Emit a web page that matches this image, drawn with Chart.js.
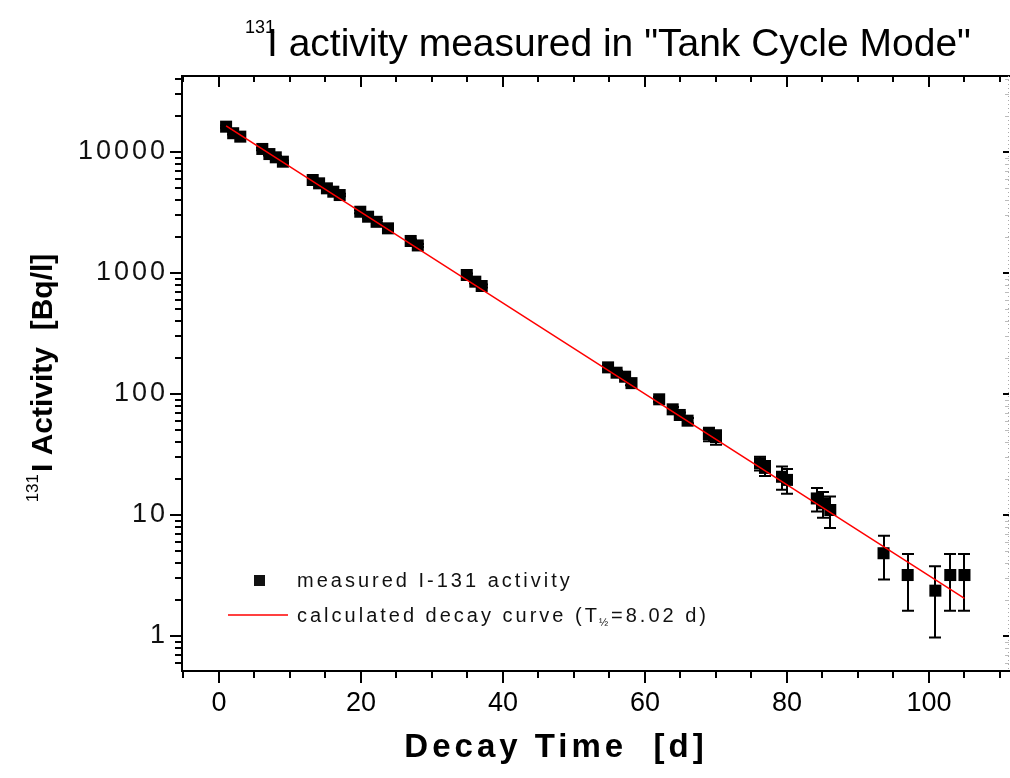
<!DOCTYPE html>
<html>
<head>
<meta charset="utf-8">
<script src="https://cdn.jsdelivr.net/npm/chart.js@4.4.1/dist/chart.umd.min.js"></script>
<style>
  html, body { margin: 0; padding: 0; background: #fff; }
  #wrap { width: 1010px; height: 778px; }
</style>
</head>
<body>
<div id="wrap"><canvas id="decayChart" width="1010" height="778"></canvas></div>
<script>
// measured I-131 samples: decay time [d], activity [Bq/l], error [Bq/l]
const decayTime = [1.0, 2.0, 3.0, 6.1, 7.1, 8.0, 9.0, 13.2, 14.1, 15.2, 16.1, 17.0,
    19.9, 21.0, 22.2, 23.8, 27.0, 28.0, 34.9, 36.1, 37.0, 54.8, 56.0, 57.2, 58.1,
    62.0, 63.9, 64.9, 66.0, 69.0, 70.0, 76.2, 76.9, 79.3, 80.0, 84.2, 85.1, 86.1,
    93.6, 97.0, 100.9, 103.0, 105.0];
const activity = [16200, 14300, 13400, 10600, 9620, 9040, 8320, 5870, 5510, 5010, 4700, 4410,
    3210, 2920, 2650, 2340, 1840, 1690, 963, 848, 781, 166, 150, 139, 123,
    90.4, 74.7, 67.1, 60.2, 46.7, 44.1, 26.8, 24.5, 20.7, 19.5, 13.7, 12.5, 11.0,
    4.83, 3.19, 2.37, 3.19, 3.19];
const activityErr = [400, 350, 330, 260, 240, 220, 200, 150, 140, 130, 120, 110,
    85, 80, 75, 65, 50, 46, 28, 25, 23, 6, 5.5, 5, 4.6,
    4, 3.5, 3.2, 3, 6, 6, 3.5, 3.5, 4.5, 4.5, 3, 3, 3.2,
    1.9, 1.57, 1.4, 1.57, 1.57];

// calculated decay curve, T1/2 = 8.02 d (end points)
const fitTime = [1, 105];
const fitActivity = [16450, 2.05];

// axis ticks
const xTickValues = [0, 20, 40, 60, 80, 100];
const yTickValues = [1, 10, 100, 1000, 10000];

const FONT = "'Liberation Sans', Arial, Helvetica, sans-serif";

// minor tick positions
const xMinor = [];
for (let v = -5; v <= 110; v += 5) xMinor.push(v);
const yMinor = [];
[0.1, 1, 10, 100, 1000, 10000].forEach(d => {
    for (let k = 2; k <= 9; k++) yMinor.push(d * k);
});

// error bars, axes frame, titles and legend
const decorPlugin = {
    id: 'decor',
    beforeDraw(chart) {
        // spaced-out digits on the y axis like the original
        const s = chart.scales.y;
        if (!s._spaced) {
            const orig = s.drawLabels;
            s.drawLabels = function (ca) {
                this.ctx.save();
                this.ctx.letterSpacing = '3px';
                orig.call(this, ca);
                this.ctx.restore();
            };
            s._spaced = true;
        }
    },
    beforeDatasetsDraw(chart) {
        const ctx = chart.ctx;
        const xs = chart.scales.x, ys = chart.scales.y;
        ctx.save();
        ctx.strokeStyle = '#000';
        ctx.lineWidth = 2;
        decayTime.forEach((t, i) => {
            const px = Math.round(xs.getPixelForValue(t));
            const top = ys.getPixelForValue(activity[i] + activityErr[i]);
            const bot = ys.getPixelForValue(Math.max(activity[i] - activityErr[i], 0.3));
            ctx.beginPath();
            ctx.moveTo(px, top); ctx.lineTo(px, bot);
            ctx.moveTo(px - 6, top); ctx.lineTo(px + 6, top);
            ctx.moveTo(px - 6, bot); ctx.lineTo(px + 6, bot);
            ctx.stroke();
        });
        ctx.restore();
    },
    afterDraw(chart) {
        const ctx = chart.ctx;
        const a = chart.chartArea;
        const xs = chart.scales.x, ys = chart.scales.y;
        ctx.save();

        // frame
        ctx.strokeStyle = '#000';
        ctx.lineWidth = 2;
        ctx.beginPath();
        ctx.moveTo(a.left, a.top); ctx.lineTo(a.left, a.bottom + 1);
        ctx.moveTo(a.left - 1, a.bottom); ctx.lineTo(a.right + 2, a.bottom);
        ctx.moveTo(a.left - 1, a.top); ctx.lineTo(a.right + 2, a.top);
        ctx.stroke();

        // right axis, dotted grey
        ctx.save();
        ctx.strokeStyle = '#aaa';
        ctx.lineWidth = 1;
        ctx.setLineDash([1, 3]);
        ctx.beginPath();
        ctx.moveTo(a.right + 0.5, a.top); ctx.lineTo(a.right + 0.5, a.bottom);
        ctx.stroke();
        ctx.restore();

        // x ticks (bottom outward, top inward)
        ctx.beginPath();
        xMinor.forEach(v => {
            const px = Math.round(xs.getPixelForValue(v));
            if (px < a.left || px > a.right + 2) return;
            const major = xTickValues.includes(v);
            ctx.moveTo(px, a.bottom); ctx.lineTo(px, a.bottom + (major ? 12 : 7));
            ctx.moveTo(px, a.top); ctx.lineTo(px, a.top + (major ? 11 : 6));
        });
        // y ticks (left outward)
        yMinor.concat(yTickValues).forEach(v => {
            const py = Math.round(ys.getPixelForValue(v));
            if (py < a.top || py > a.bottom) return;
            const major = yTickValues.includes(v);
            ctx.moveTo(a.left, py); ctx.lineTo(a.left - (major ? 12 : 7), py);
        });
        ctx.stroke();

        // right axis ticks (inward)
        ctx.beginPath();
        yTickValues.forEach(v => {
            const py = Math.round(ys.getPixelForValue(v));
            ctx.moveTo(a.right + 1, py); ctx.lineTo(a.right - 5, py);
        });
        ctx.stroke();
        ctx.save();
        ctx.strokeStyle = '#bbb';
        ctx.lineWidth = 1;
        ctx.beginPath();
        yMinor.forEach(v => {
            const py = Math.round(ys.getPixelForValue(v)) + 0.5;
            if (py < a.top || py > a.bottom) return;
            ctx.moveTo(a.right + 1, py); ctx.lineTo(a.right - 3, py);
        });
        ctx.stroke();
        ctx.restore();

        ctx.fillStyle = '#000';
        ctx.textBaseline = 'alphabetic';

        // chart title with superscript
        ctx.textAlign = 'left';
        ctx.font = '18px ' + FONT;
        ctx.fillText('131', 245, 33);
        ctx.font = '39px ' + FONT;
        ctx.fillText('I activity measured in "Tank Cycle Mode"', 267, 56, 708);

        // x axis title
        ctx.font = 'bold 33px ' + FONT;
        ctx.letterSpacing = '4px';
        ctx.textAlign = 'center';
        ctx.fillText('Decay Time  [d]', 556, 757);

        // y axis title (rotated) with superscript
        ctx.save();
        ctx.translate(52, 378);
        ctx.rotate(-Math.PI / 2);
        ctx.letterSpacing = '0px';
        ctx.textAlign = 'left';
        ctx.font = 'bold 30px ' + FONT;
        const main = 'I Activity  [Bq/l]';
        const wMain = ctx.measureText(main).width;
        ctx.font = '17px ' + FONT;
        const wSup = ctx.measureText('131').width;
        const x0 = -(wMain + wSup + 2) / 2;
        ctx.fillText('131', x0, -14);
        ctx.font = 'bold 30px ' + FONT;
        ctx.fillText(main, x0 + wSup + 2, 0);
        ctx.restore();

        // legend
        ctx.letterSpacing = '3px';
        ctx.textAlign = 'left';
        ctx.textBaseline = 'middle';
        ctx.font = '20px ' + FONT;
        ctx.fillStyle = '#111';
        ctx.fillRect(254, 575, 11, 11);
        ctx.fillText('measured I-131 activity', 297, 581);
        ctx.strokeStyle = 'red';
        ctx.lineWidth = 1.5;
        ctx.beginPath();
        ctx.moveTo(228, 615); ctx.lineTo(288, 615);
        ctx.stroke();
        const part1 = 'calculated decay curve (T';
        ctx.fillText(part1, 297, 616);
        let lx = 297 + ctx.measureText(part1).width;
        ctx.font = '11px ' + FONT;
        ctx.letterSpacing = '0px';
        ctx.fillText('\u00bd', lx - 1, 623);
        lx += ctx.measureText('\u00bd').width + 2;
        ctx.font = '20px ' + FONT;
        ctx.letterSpacing = '3px';
        ctx.fillText('=8.02 d)', lx, 616);

        ctx.restore();
    }
};

const ctx = document.getElementById('decayChart').getContext('2d');

new Chart(ctx, {
    type: 'scatter',
    data: {
        datasets: [{
            type: 'line',
            label: 'calculated decay curve',
            data: fitTime.map((t, i) => ({ x: t, y: fitActivity[i] })),
            borderColor: 'red',
            borderWidth: 1.5,
            pointRadius: 0,
            fill: false,
            order: 0
        }, {
            label: 'measured I-131 activity',
            data: decayTime.map((t, i) => ({ x: t, y: activity[i] })),
            pointStyle: 'rect',
            pointRadius: 8.5,
            backgroundColor: '#000',
            borderColor: '#000',
            borderWidth: 0,
            order: 1
        }]
    },
    options: {
        responsive: false,
        animation: false,
        layout: { autoPadding: false, padding: { left: 0, top: 76, right: 2, bottom: 0 } },
        scales: {
            x: {
                type: 'linear',
                min: -5.21,
                max: 111.13,
                afterBuildTicks: s => { s.ticks = xTickValues.map(v => ({ value: v })); },
                afterFit: s => { s.height = 107; },
                grid: { display: false, drawTicks: false },
                border: { display: false },
                ticks: {
                    color: '#000',
                    padding: 16,
                    font: { family: FONT, size: 27 },
                    callback: v => String(v)
                }
            },
            y: {
                type: 'logarithmic',
                min: 0.5136,
                max: 42490,
                afterBuildTicks: s => { s.ticks = yTickValues.map(v => ({ value: v })); },
                afterFit: s => { s.width = 182; },
                grid: { display: false, drawTicks: false },
                border: { display: false },
                ticks: {
                    color: '#111',
                    padding: 14,
                    font: { family: FONT, size: 27 },
                    callback: v => String(v)
                }
            }
        },
        plugins: {
            legend: { display: false },
            tooltip: { enabled: false }
        }
    },
    plugins: [decorPlugin]
});
</script>
</body>
</html>
